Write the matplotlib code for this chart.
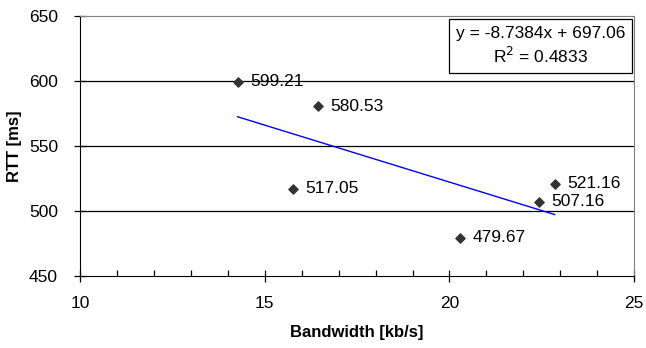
import matplotlib.pyplot as plt
from matplotlib.ticker import MultipleLocator

plt.rcParams['font.family'] = ['Liberation Sans', 'DejaVu Sans']

# data
bandwidth = [14.26, 16.43, 15.77, 20.29, 22.42, 22.85]
rtt = [599.21, 580.53, 517.05, 479.67, 507.16, 521.16]
slope = -8.7384
intercept = 697.06
r2 = 0.4833

fig = plt.figure(figsize=(6.46, 3.48), dpi=100)
ax = fig.add_axes([80.3 / 646, 1 - 276.3 / 348, (634 - 80.3) / 646, (276.3 - 15.7) / 348])

ax.set_xlim(10, 25)
ax.set_ylim(450, 650)
ax.xaxis.set_major_locator(MultipleLocator(5))
ax.xaxis.set_minor_locator(MultipleLocator(1))
ax.yaxis.set_major_locator(MultipleLocator(50))

# horizontal gridlines
for y in [500, 550, 600]:
    ax.axhline(y, color='black', lw=0.9, zorder=1)

ax.scatter(bandwidth, rtt, marker='D', s=22, color='#333333', zorder=3)

for x, y in zip(bandwidth, rtt):
    ax.annotate(f'{y:.2f}', (x, y), xytext=(9, 0), textcoords='offset points',
                va='center', ha='left', fontsize=12.5)

# linear trendline over the data range
xs = [min(bandwidth), max(bandwidth)]
ax.plot(xs, [slope * x + intercept for x in xs], color='#0000ff', lw=1, zorder=2)

ax.text(0.8316, 0.8835, f'y = {slope}x + {intercept}\nR$^2$ = {r2}', transform=ax.transAxes,
        ha='center', va='center', fontsize=12.5, linespacing=1.3,
        bbox=dict(boxstyle='square,pad=0.4', fc='white', ec='black', lw=0.9), zorder=4)

for side in ['top', 'right']:
    ax.spines[side].set_color('#808080')
for side in ['left', 'bottom']:
    ax.spines[side].set_color('black')

ax.tick_params(which='major', direction='inout', length=8, width=0.9, labelsize=12.5)
ax.tick_params(which='minor', direction='in', length=4, width=0.9)
ax.tick_params(axis='x', pad=10)
ax.tick_params(axis='y', pad=12)

ax.set_xlabel('Bandwidth [kb/s]', fontsize=12, fontweight='bold', labelpad=10)
ax.set_ylabel('RTT [ms]', fontsize=12, fontweight='bold', labelpad=5)

fig.savefig('out.png', dpi=100)
